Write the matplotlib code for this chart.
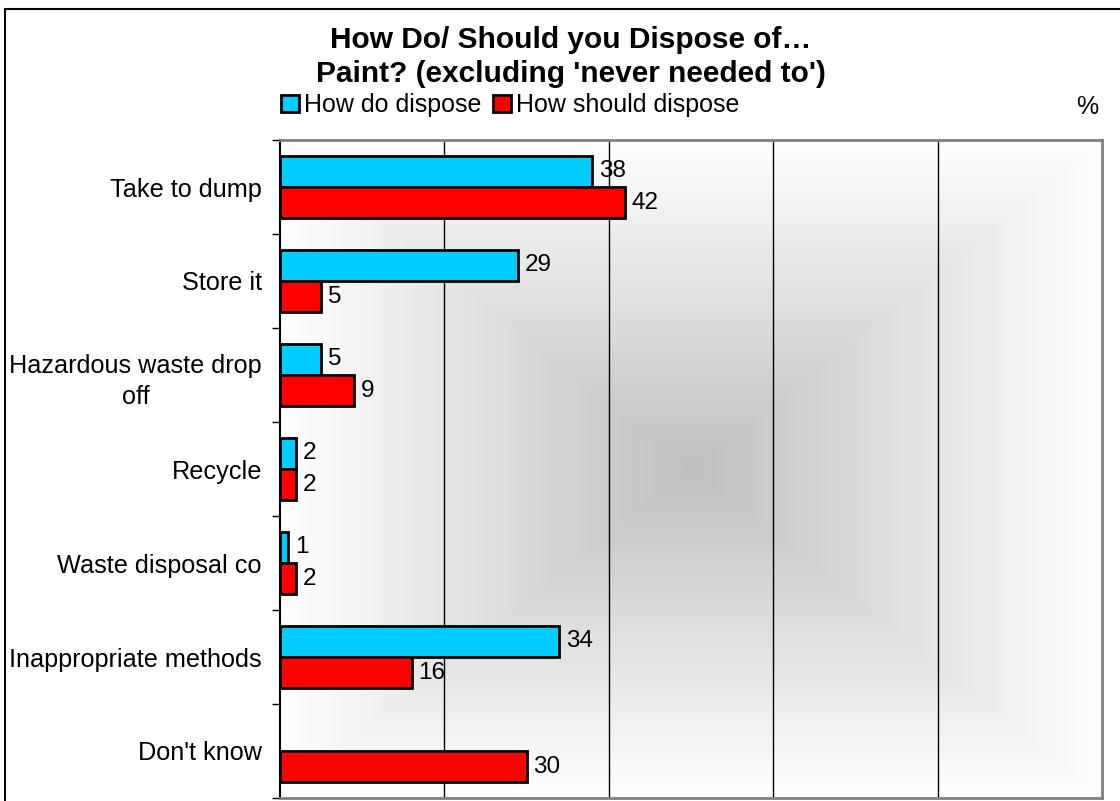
import numpy as np
import matplotlib
matplotlib.use("Agg")
import matplotlib.pyplot as plt
from matplotlib.patches import Rectangle

categories = ["Take to dump", "Store it", "Hazardous waste drop\noff", "Recycle",
              "Waste disposal co", "Inappropriate methods", "Don't know"]
how_do = [38, 29, 5, 2, 1, 34, None]
how_should = [42, 5, 9, 2, 2, 16, 30]
series_names = ["How do dispose", "How should dispose"]
colors = ["#00CCFF", "#FF0000"]

plt.rcParams['font.family'] = ['Liberation Sans', 'DejaVu Sans']

fig = plt.figure(figsize=(11.2, 8.01), dpi=100)
fig.patch.set_facecolor("white")

# outer chart border (top and left visible)
fig.add_artist(Rectangle((5/1120, -0.1), 1.2, 1 - 9/801 + 0.1, transform=fig.transFigure,
                         fill=False, edgecolor="black", linewidth=1.5))

ax = fig.add_axes([280/1120, 1 - 798/801, (1102-280)/1120, (798-140)/801])

# gradient background (rectangular from center)
n = 400
xs = np.linspace(-1, 1, n)
X, Y = np.meshgrid(xs, xs)
d = np.maximum(np.abs(X), np.abs(Y))
val = (192 + 63 * d) / 255.0
img = np.dstack([val, val, val])
ax.imshow(img, extent=[0, 1, 0, 1], transform=ax.transAxes, aspect="auto", zorder=0,
          interpolation="bilinear")

y = np.arange(len(categories))
h = 0.33
off = 0.167
do_vals = [v if v is not None else 0 for v in how_do]
b1 = ax.barh(y - off, do_vals, height=h, color=colors[0], edgecolor="black", linewidth=2,
             zorder=3, label=series_names[0])
b2 = ax.barh(y + off, how_should, height=h, color=colors[1], edgecolor="black", linewidth=2,
             zorder=3, label=series_names[1])
if how_do[-1] is None:
    b1.patches[-1].set_visible(False)

for i, v in enumerate(how_do):
    if v is not None:
        ax.text(v + 0.8, i - off, str(v), va="center", ha="left", fontsize=17.5, zorder=4)
for i, v in enumerate(how_should):
    if v is not None:
        ax.text(v + 0.8, i + off, str(v), va="center", ha="left", fontsize=17.5, zorder=4)

ax.set_xlim(0, 100)
ax.set_ylim(len(categories) - 0.5, -0.5)
ax.set_xticks([20, 40, 60, 80])
ax.xaxis.grid(True, color="black", linewidth=1, zorder=1)
ax.set_axisbelow(True)
ax.tick_params(axis="x", length=0, labelbottom=False)

ax.set_yticks(y)
ax.set_yticklabels(categories, fontsize=18.2, multialignment="center", linespacing=1.4)
ax.tick_params(axis="y", which="major", length=0, pad=13)
ax.set_yticks(np.arange(-0.5, len(categories), 1), minor=True)
ax.tick_params(axis="y", which="minor", length=6, width=1, direction="out", color="black")

for s in ["top", "right", "bottom"]:
    ax.spines[s].set_color("#808080")
    ax.spines[s].set_linewidth(2)
ax.spines["left"].set_color("black")
ax.spines["left"].set_linewidth(1.5)

fig.text(571/1120, 1 - 57/801, "How Do/ Should you Dispose of\u2026\nPaint? (excluding 'never needed to')",
         ha="center", va="center", fontsize=21.5, fontweight="bold", linespacing=1.25)

leg = fig.legend(handles=[b1.patches[0], b2.patches[0]],
                 labels=series_names, loc="center left",
                 bbox_to_anchor=(281/1120, 1 - 105/801), ncol=2, frameon=False, fontsize=18,
                 handlelength=0.7, handleheight=0.7, handletextpad=0.2, columnspacing=0.5,
                 borderaxespad=0, borderpad=0)
for p in leg.get_patches():
    p.set_linewidth(2)

fig.text(1087/1120, 1 - 107/801, "%", ha="center", va="center", fontsize=18)

fig.savefig("out.png", dpi=100)
